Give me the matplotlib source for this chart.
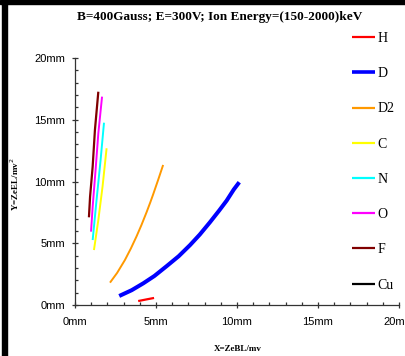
import matplotlib
matplotlib.use("Agg")
import matplotlib.pyplot as plt
from matplotlib.patches import Rectangle
from matplotlib.ticker import MultipleLocator, FuncFormatter

####################
# Data (mm)
####################
species = ["H", "D", "D2", "C", "N", "O", "F", "Cu"]
colors = ["#ff0000", "#0000ff", "#ff9900", "#ffff00", "#00ffff", "#ff00ff", "#800000", "#000000"]
widths = [1.6, 2.9, 1.4, 1.4, 1.4, 1.4, 1.6, 1.4]

H_x = [3.90, 4.40, 4.88]
H_y = [0.32, 0.45, 0.57]

D_x = [2.73, 3.50, 4.22, 4.90, 5.66, 6.40, 7.10, 7.70, 8.33, 8.90, 9.36, 9.80, 10.14]
D_y = [0.73, 1.20, 1.76, 2.35, 3.15, 3.95, 4.85, 5.70, 6.70, 7.65, 8.45, 9.35, 9.94]

D2_x = [2.16, 2.60, 3.08, 3.45, 3.80, 4.10, 4.42, 4.65, 4.82, 5.15, 5.44]
D2_y = [1.81, 2.60, 3.64, 4.58, 5.56, 6.47, 7.52, 8.32, 8.94, 10.20, 11.34]

C_x = [1.17, 1.44, 1.70, 1.95]
C_y = [4.45, 6.88, 9.58, 12.69]

N_x = [1.09, 1.33, 1.58, 1.79]
N_y = [5.26, 8.50, 11.74, 14.76]

O_x = [0.99, 1.09, 1.27, 1.44, 1.67]
O_y = [5.94, 7.96, 10.93, 13.90, 16.87]

F_x = [0.86, 0.93, 1.09, 1.23, 1.44]
F_y = [7.10, 8.77, 11.20, 14.17, 17.27]

# Cu is only in the legend, no trace visible
Cu_x = []
Cu_y = []

xs = [H_x, D_x, D2_x, C_x, N_x, O_x, F_x, Cu_x]
ys = [H_y, D_y, D2_y, C_y, N_y, O_y, F_y, Cu_y]

title = "B=400Gauss; E=300V; Ion Energy=(150-2000)keV"
xlabel = "X=ZeBL/mv"
ylabel = "Y=ZeEL/mv$^2$"

W, H = 406, 356
fig = plt.figure(figsize=(W / 100, H / 100), dpi=100)
ax = fig.add_axes([75 / W, 1 - 305 / H, 324 / W, 247 / H])

for x, y, c, lw, name in zip(xs, ys, colors, widths, species):
    ax.plot(x, y, color=c, lw=lw, label=name, solid_capstyle="butt")

ax.set_xlim(0, 20)
ax.set_ylim(0, 20)
ax.xaxis.set_major_locator(MultipleLocator(5))
ax.xaxis.set_minor_locator(MultipleLocator(1))
ax.yaxis.set_major_locator(MultipleLocator(5))
ax.yaxis.set_minor_locator(MultipleLocator(1))
mm = FuncFormatter(lambda v, p: "%gmm" % v)
ax.xaxis.set_major_formatter(mm)
ax.yaxis.set_major_formatter(mm)

for s in ["top", "right"]:
    ax.spines[s].set_visible(False)
for s in ["left", "bottom"]:
    ax.spines[s].set_color("#333333")
    ax.spines[s].set_linewidth(0.9)

ax.tick_params(which="major", direction="inout", length=5, width=0.9, color="#333333",
               labelsize=8, labelfontfamily="Liberation Sans")
ax.tick_params(axis="x", which="major", pad=6)
ax.tick_params(axis="y", which="major", pad=4.5)
ax.tick_params(which="minor", direction="in", length=2.5, width=0.9, color="#333333")

# titles / labels
fig.text(220 / W, 1 - 17 / H, title, ha="center", va="center", fontsize=9.5,
         fontweight="bold", family="Liberation Serif")
fig.text(238 / W, 1 - 349 / H, xlabel, ha="center", va="center", fontsize=6.5,
         fontweight="bold", family="Liberation Serif")
fig.text(15 / W, 1 - 184 / H, ylabel, ha="center", va="center", fontsize=6.5,
         fontweight="bold", family="Liberation Serif", rotation=90)

leg = fig.legend(loc="upper left", bbox_to_anchor=(352 / W, 1 - 32 / H), frameon=False,
                 prop={"family": "Liberation Serif", "size": 10}, borderpad=0,
                 borderaxespad=0, handlelength=1.65, handletextpad=0.2, labelspacing=1.6)
for h in leg.legend_handles:
    h.set_linewidth(1.6)
leg.legend_handles[1].set_linewidth(2.6)

# black frame strips at the top and left edge of the screenshot
fig.patches.append(Rectangle((0, 1 - 3.5 / H), 1, 3.5 / H, transform=fig.transFigure,
                             color="black", zorder=10))
fig.patches.append(Rectangle((2 / W, 0), 5 / W, 1, transform=fig.transFigure,
                             color="black", zorder=10))

fig.savefig("out.png", dpi=100)
